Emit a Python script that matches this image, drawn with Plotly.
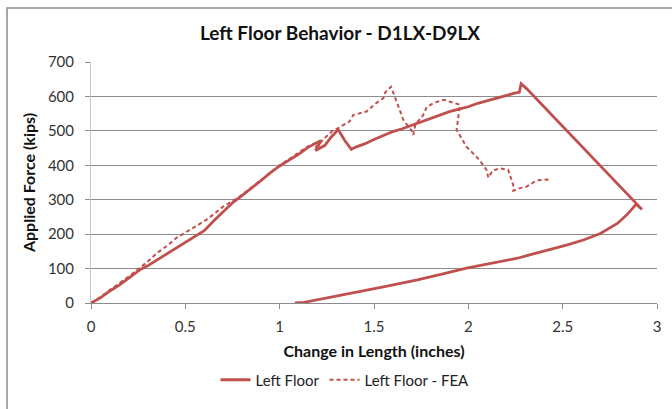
import plotly.graph_objects as go

# Left Floor (test) data: change in length (in) vs applied force (kips)
solid_x = [0, 0.05, 0.10, 0.15, 0.20, 0.26, 0.30, 0.35, 0.40, 0.45, 0.50, 0.55, 0.60, 0.65,
           0.70, 0.75, 0.80, 0.85, 0.90, 0.95, 1.00, 1.05, 1.10, 1.15, 1.22, 1.19, 1.24, 1.27,
           1.31, 1.345, 1.38, 1.40, 1.45, 1.50, 1.55, 1.60, 1.65, 1.70, 1.75, 1.80, 1.85, 1.90,
           1.95, 2.00, 2.05, 2.10, 2.15, 2.20, 2.25, 2.27, 2.28, 2.31, 2.92, 2.89, 2.84, 2.79,
           2.70, 2.61, 2.52, 2.43, 2.34, 2.26, 2.12, 1.99, 1.86, 1.73, 1.55, 1.37, 1.28, 1.20,
           1.13, 1.08]
solid_y = [0, 15, 35, 52, 72, 97, 108, 125, 143, 160, 176, 192, 210, 238,
           266, 291, 312, 333, 355, 378, 398, 415, 432, 452, 472, 443, 458, 480,
           504, 472, 446, 452, 462, 475, 486, 498, 506, 516, 528, 538, 548, 556,
           563, 570, 580, 588, 594, 602, 610, 612, 637, 622, 272, 287, 256, 231,
           202, 183, 168, 154, 142, 130, 115, 101, 84, 67, 47, 28, 18, 9,
           2, 0]

# Left Floor - FEA data
fea_x = [0, 0.05, 0.10, 0.15, 0.20, 0.25, 0.30, 0.35, 0.40, 0.45, 0.50, 0.55, 0.61, 0.66,
         0.70, 0.75, 0.79, 0.85, 0.90, 0.95, 1.00, 1.05, 1.10, 1.15, 1.21, 1.19, 1.25, 1.28,
         1.31, 1.37, 1.39, 1.46, 1.51, 1.55, 1.56, 1.59, 1.62, 1.655, 1.70, 1.708, 1.72, 1.76,
         1.78, 1.82, 1.87, 1.92, 1.955, 1.947, 1.938, 1.99, 2.03, 2.06, 2.097, 2.106, 2.13,
         2.167, 2.211, 2.238, 2.238, 2.27, 2.309, 2.362, 2.432]
fea_y = [0, 17, 38, 57, 77, 98, 120, 145, 165, 188, 205, 220, 241, 262,
         280, 296, 310, 335, 356, 378, 400, 418, 436, 455, 470, 452, 485, 500,
         508, 527, 546, 556, 580, 595, 612, 628, 585, 532, 500, 488, 520, 545,
         570, 582, 590, 582, 576, 541, 503, 454, 432, 415, 386, 364, 385,
         391, 387, 343, 326, 333, 338, 356, 359]

x_ticks = [0, 0.5, 1, 1.5, 2, 2.5, 3]
x_tick_text = ["0", "0.5", "1", "1.5", "2", "2.5", "3"]
y_ticks = [0, 100, 200, 300, 400, 500, 600, 700]

RED = "#C0504D"
FONT = "Lato"

fig = go.Figure()
fig.add_trace(go.Scatter(x=solid_x, y=solid_y, mode="lines", name="Left Floor",
                         line=dict(color=RED, width=2.8)))
fig.add_trace(go.Scatter(x=fea_x, y=fea_y, mode="lines", name="Left Floor - FEA",
                         line=dict(color=RED, width=2, dash="4px,3px")))

L, R, T, B = 91, 15, 62, 106
W, H = 672, 409
pw = W - L - R
ph = H - T - B

def px_x(p):
    return (p - L) / pw

def px_y(p):
    return (H - B - p) / ph

fig.update_layout(
    width=W, height=H,
    margin=dict(l=L, r=R, t=T, b=B),
    paper_bgcolor="white", plot_bgcolor="white",
    font=dict(family=FONT, size=15, color="#333333"),
    title=dict(text="<b>Left Floor Behavior - D1LX-D9LX</b>", xref="container", x=340 / W,
               xanchor="center", y=1 - 33 / H, yanchor="middle",
               font=dict(family=FONT, size=19, color="#111111")),
    showlegend=True,
    legend=dict(orientation="h", x=px_x(345), xanchor="center", y=px_y(380), yanchor="middle",
                font=dict(family=FONT, size=15, color="#222222"), bgcolor="rgba(0,0,0,0)",
                itemwidth=30),
    xaxis=dict(range=[0, 3], tickvals=x_ticks, ticktext=x_tick_text, showgrid=False,
               zeroline=False, showline=True, linecolor="#8c8c8c", linewidth=1,
               ticks="outside", ticklen=5, tickcolor="#8c8c8c", ticklabelstandoff=5,
               tickfont=dict(family=FONT, size=15, color="#333333"),
               title=dict(text="<b>Change in Length (inches)</b>", standoff=11,
                          font=dict(family=FONT, size=16, color="#111111"))),
    yaxis=dict(range=[0, 700], tickvals=y_ticks, showgrid=True, gridcolor="#8c8c8c",
               gridwidth=1, zeroline=False, showline=True, linecolor="#c8c8c8", linewidth=1,
               ticks="outside", ticklen=5, tickcolor="#8c8c8c", ticklabelstandoff=8,
               tickfont=dict(family=FONT, size=15, color="#333333"),
               title=dict(text="<b>Applied Force (kips)</b>", standoff=8,
                          font=dict(family=FONT, size=16, color="#111111"))),
    shapes=[dict(type="rect", xref="paper", yref="paper",
                 x0=px_x(7), x1=px_x(690), y0=px_y(430), y1=px_y(8),
                 line=dict(color="#8c8c8c", width=1.5), fillcolor="rgba(0,0,0,0)", layer="below")],
)

fig.write_html("out.html")
